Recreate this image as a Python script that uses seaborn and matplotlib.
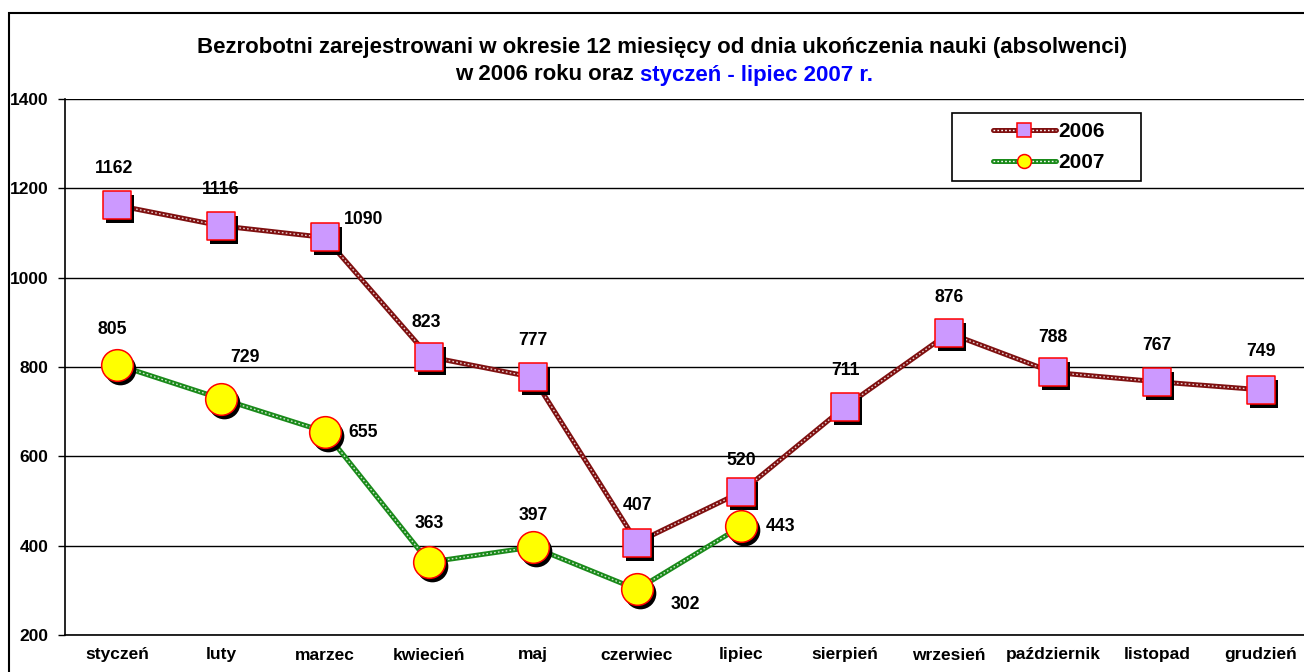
import numpy as np
import pandas as pd
import matplotlib
matplotlib.use("Agg")
import matplotlib.pyplot as plt
from matplotlib.lines import Line2D
from matplotlib.patches import Rectangle
from matplotlib.transforms import offset_copy
from matplotlib.legend_handler import HandlerTuple
import seaborn as sns

# data
months = ["styczeń", "luty", "marzec", "kwiecień", "maj", "czerwiec", "lipiec",
          "sierpień", "wrzesień", "październik", "listopad", "grudzień"]
values_2006 = [1162, 1116, 1090, 823, 777, 407, 520, 711, 876, 788, 767, 749]
values_2007 = [805, 729, 655, 363, 397, 302, 443]
y_ticks = [200, 400, 600, 800, 1000, 1200, 1400]

title_line1 = "Bezrobotni zarejestrowani w okresie 12 miesięcy od dnia ukończenia nauki (absolwenci)"
title_line2a = "w 2006 roku oraz"
title_line2b = "styczeń - lipiec 2007 r."

# label offsets in pixels (dx, dy) relative to each marker
offs_2006 = [(-3, 37), (0, 36), (39, 18), (-3, 34), (0, 37), (0, 37), (0, 32),
             (0, 36), (0, 36), (0, 35), (0, 36), (0, 38)]
offs_2007 = [(-5, 35), (24, 41), (38, -1), (0, 39), (0, 32), (48, -15), (39, 0)]

W, H = 1304, 672
sns.set_style("white")
plt.rcParams["font.family"] = ["Liberation Sans", "DejaVu Sans"]
plt.rcParams["font.weight"] = "bold"
for k in ["text.color", "axes.labelcolor", "xtick.color", "ytick.color"]:
    plt.rcParams[k] = "black"

fig = plt.figure(figsize=(W / 100, H / 100), dpi=100)
ax = fig.add_axes([65 / W, 37 / H, 1248 / W, 536 / H])

df06 = pd.DataFrame({"x": np.arange(len(values_2006)), "v": values_2006})
df07 = pd.DataFrame({"x": np.arange(len(values_2007)), "v": values_2007})

red_line = "#7f1010"
green_line = "#1a8a1a"
chain = (0, (1.2, 1.6))

# chain-like lines: thick coloured line with a thin white dotted core
for d, col in [(df06, red_line), (df07, green_line)]:
    sns.lineplot(data=d, x="x", y="v", color=col, lw=3.6, sort=False, ax=ax, zorder=3)
    ax.plot(d["x"], d["v"], color="white", lw=1.0, ls=chain, alpha=0.8, zorder=3.5)

shadow = offset_copy(ax.transData, fig=fig, x=3, y=-4, units="dots")

sns.scatterplot(data=df06, x="x", y="v", marker="s", s=380, color="black",
                linewidth=0, transform=shadow, ax=ax, zorder=4, legend=False)
sns.scatterplot(data=df06, x="x", y="v", marker="s", s=380, color="#cc99ff",
                edgecolor="#ff0000", linewidth=1.1, ax=ax, zorder=5, legend=False)
sns.scatterplot(data=df07, x="x", y="v", marker="o", s=520, color="black",
                linewidth=0, transform=shadow, ax=ax, zorder=4, legend=False)
sns.scatterplot(data=df07, x="x", y="v", marker="o", s=520, color="#ffff00",
                edgecolor="#ff0000", linewidth=1.1, ax=ax, zorder=5, legend=False)

for vals, offs in [(values_2006, offs_2006), (values_2007, offs_2007)]:
    for i, (v, o) in enumerate(zip(vals, offs)):
        ax.annotate(str(v), xy=(i, v), xytext=o, textcoords="offset pixels",
                    ha="center", va="center", fontsize=12.7, fontweight="bold", zorder=6)

ax.set_xlim(-0.5, 11.5)
ax.set_ylim(200, 1400)
ax.set_yticks(y_ticks)
ax.set_yticklabels([str(t) for t in y_ticks], fontsize=12.5, fontweight="bold")
ax.set_xticks(np.arange(len(months)))
ax.set_xticklabels(months, fontsize=12.5, fontweight="bold")
ax.set_xticks(np.arange(len(months) + 1) - 0.5, minor=True)
ax.tick_params(axis="x", which="major", length=0, pad=9)
ax.tick_params(axis="x", which="minor", length=5, width=1, direction="out", color="black")
ax.tick_params(axis="y", length=5, width=1, direction="out", color="black", pad=7, left=True)
ax.set_xlabel("")
ax.set_ylabel("")
ax.grid(axis="y", color="black", lw=1)
ax.set_axisbelow(True)
for s in ["top", "right"]:
    ax.spines[s].set_visible(False)
for s in ["left", "bottom"]:
    ax.spines[s].set_color("black")
    ax.spines[s].set_linewidth(1.2)

# outer chart border (cut by the image edge on right and bottom)
fig.patches.append(Rectangle((9 / W, -0.1), 2, (H - 13) / H + 0.1, transform=fig.transFigure,
                             fill=False, edgecolor="black", lw=1.5))

# legend with a hand-placed frame
fig.patches.append(Rectangle((952 / W, 1 - 181 / H), 189 / W, 68 / H, transform=fig.transFigure,
                             facecolor="white", edgecolor="black", lw=1.2, zorder=10))
h06 = (Line2D([], [], color=red_line, lw=3.6),
       Line2D([], [], color="white", lw=1.0, ls=chain),
       Line2D([], [], ls="", marker="s", ms=10, mfc="#cc99ff", mec="#ff0000", mew=1.1))
h07 = (Line2D([], [], color=green_line, lw=3.6),
       Line2D([], [], color="white", lw=1.0, ls=chain),
       Line2D([], [], ls="", marker="o", ms=10, mfc="#ffff00", mec="#ff0000", mew=1.1))
leg = fig.legend([h06, h07], ["2006", "2007"], handler_map={tuple: HandlerTuple(ndivide=1, pad=0)},
                 loc="upper left", bbox_to_anchor=(993 / W, 1 - 122 / H), frameon=False,
                 prop={"size": 15, "weight": "bold"}, handlelength=3.0, handletextpad=0.15,
                 labelspacing=0.6, borderpad=0, borderaxespad=0)
leg.set_zorder(11)

# title: first line black, second line black + blue part
fig.text(662 / W, 1 - 47 / H, title_line1, ha="center", va="center", fontsize=16, fontweight="bold")
ta = fig.text(0, 1 - 75 / H, title_line2a, ha="left", va="center", fontsize=16, fontweight="bold")
tb = fig.text(0, 1 - 75 / H, title_line2b, ha="left", va="center", fontsize=16, fontweight="bold",
              color="#0000ff")
fig.canvas.draw()
r = fig.canvas.get_renderer()
wa = ta.get_window_extent(r).width
wb = tb.get_window_extent(r).width
gap = 6
x0 = 664 - (wa + gap + wb) / 2
ta.set_x(x0 / W)
tb.set_x((x0 + wa + gap) / W)

fig.savefig("out.png", dpi=100)
